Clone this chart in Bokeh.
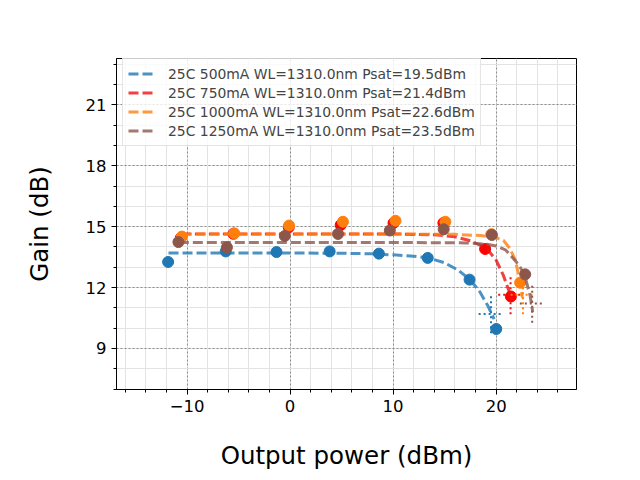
from bokeh.plotting import figure
from bokeh.embed import file_html
from bokeh.resources import INLINE
from bokeh.models import Range1d, FixedTicker, Legend, LegendItem, CustomJSTickFormatter

# ---- data ----
labels = ["25C 500mA WL=1310.0nm Psat=19.5dBm",
          "25C 750mA WL=1310.0nm Psat=21.4dBm",
          "25C 1000mA WL=1310.0nm Psat=22.6dBm",
          "25C 1250mA WL=1310.0nm Psat=23.5dBm"]
psat = [19.5, 21.4, 22.6, 23.5]
g3db = [10.7, 11.64, 11.64, 11.22]

# measured points
p500_x = [-11.84, -6.25, -1.32, 3.84, 8.62, 13.36, 17.42, 20.01]
p500_y = [13.26, 13.78, 13.75, 13.78, 13.67, 13.46, 12.39, 9.96]
p750_x = [-10.6, -5.5, -0.13, 4.91, 10.04, 14.88, 18.93, 21.43]
p750_y = [14.45, 14.65, 14.97, 15.08, 15.18, 15.18, 13.90, 11.56]
p1000_x = [-10.51, -5.42, -0.10, 5.13, 10.23, 15.07, 19.53, 22.33]
p1000_y = [14.51, 14.67, 15.05, 15.24, 15.29, 15.24, 14.63, 12.24]
p1250_x = [-10.84, -6.13, -0.51, 4.65, 9.68, 14.91, 19.59, 22.82]
p1250_y = [14.24, 13.98, 14.54, 14.64, 14.81, 14.87, 14.59, 12.65]

# fitted curves
f500_x = [-11.8, -5, 0, 5, 8, 10, 12, 13.4, 15, 16.3, 17.4, 18.4, 19.2, 19.8]
f500_y = [13.70, 13.70, 13.70, 13.69, 13.66, 13.61, 13.54, 13.46, 13.22, 12.86, 12.42, 11.8, 11.1, 10.45]
f750_x = [-10.6, 0, 10, 14, 16, 17.5, 18.5, 19.2, 20.0, 20.7, 21.2, 21.5]
f750_y = [14.64, 14.64, 14.64, 14.6, 14.5, 14.3, 14.08, 13.85, 13.35, 12.6, 11.9, 11.4]
f1000_x = [-10.5, 0, 10, 16, 18.5, 19.8, 20.7, 21.3, 21.85, 22.3, 22.55]
f1000_y = [14.64, 14.64, 14.64, 14.62, 14.56, 14.48, 14.33, 13.95, 13.38, 12.35, 11.5]
f1250_x = [-10.8, 0, 10, 17, 19.0, 20.0, 20.9, 21.9, 22.4, 22.9, 23.3, 23.55]
f1250_y = [14.22, 14.22, 14.22, 14.2, 14.14, 14.05, 13.86, 13.3, 12.95, 12.35, 11.6, 10.8]

x_ticks = [-10, 0, 10, 20]
x_minor = list(range(-16, 28, 2))
y_ticks = [9, 12, 15, 18, 21]
y_minor = list(range(7, 24))

line_colors = ["#1f77b4", "#ee1111", "#ff7f0e", "#8c564b"]
pt_colors = ["#1f77b4", "#ff0000", "#ff7f0e", "#8c564b"]

pts = [(p500_x, p500_y), (p750_x, p750_y), (p1000_x, p1000_y), (p1250_x, p1250_y)]
fits = [(f500_x, f500_y), (f750_x, f750_y), (f1000_x, f1000_y), (f1250_x, f1250_y)]

p = figure(width=632, height=472, x_range=Range1d(-16.85, 27.8), y_range=Range1d(6.98, 23.28),
           output_backend="svg", toolbar_location=None,
           min_border_left=116, min_border_right=56, min_border_top=58, min_border_bottom=79)

p.outline_line_color = "black"
p.outline_line_width = 1
p.background_fill_color = "white"

p.xaxis.ticker = FixedTicker(ticks=x_ticks, minor_ticks=x_minor)
p.yaxis.ticker = FixedTicker(ticks=y_ticks, minor_ticks=y_minor)
fmt = CustomJSTickFormatter(code="return (tick < 0 ? '\u2212' + Math.abs(tick) : '' + tick);")
p.xaxis.formatter = fmt
p.yaxis.formatter = fmt

for ax in (p.xaxis, p.yaxis):
    ax.axis_line_color = "black"
    ax.major_tick_line_color = "black"
    ax.minor_tick_line_color = "black"
    ax.major_tick_out = 5
    ax.major_tick_in = 0
    ax.minor_tick_out = 3
    ax.minor_tick_in = 0
    ax.major_label_text_font = "DejaVu Sans"
    ax.major_label_text_font_size = "16.5px"
    ax.major_label_text_color = "black"
    ax.axis_label_text_font = "DejaVu Sans"
    ax.axis_label_text_font_size = "24.5px"
    ax.axis_label_text_font_style = "normal"
    ax.axis_label_text_color = "black"

p.xaxis.axis_label = "Output power (dBm)"
p.yaxis.axis_label = "Gain (dB)"
p.xaxis.axis_label_standoff = 26
p.yaxis.axis_label_standoff = 29
p.xaxis.major_label_standoff = 5
p.yaxis.major_label_standoff = 5

for g in (p.xgrid, p.ygrid):
    g.grid_line_color = "#777777"
    g.grid_line_dash = "2 2"
    g.grid_line_width = 0.8
    g.minor_grid_line_color = "#e3e3e3"
    g.minor_grid_line_width = 1

items = []
for i in range(4):
    px, py = pts[i]
    fx, fy = fits[i]
    p.scatter(px, py, size=11, color=pt_colors[i], line_color=pt_colors[i])
    r = p.line(fx, fy, line_color=line_colors[i], line_width=3, line_dash="10 4", line_alpha=0.8)
    items.append(LegendItem(label=labels[i], renderers=[r]))
    # Psat / -3 dB cross marks
    p.line([psat[i] - 1.2, psat[i] + 1.2], [g3db[i], g3db[i]], line_color=line_colors[i],
           line_width=2, line_dash="2 3")
    p.line([psat[i], psat[i]], [g3db[i] - 0.95, g3db[i] + 0.95], line_color=line_colors[i],
           line_width=2, line_dash="2 3")

legend = Legend(items=items, location=(6, 243))
legend.label_text_font = "DejaVu Sans"
legend.label_text_font_size = "13.9px"
legend.label_standoff = 12
legend.glyph_width = 28
legend.glyph_height = 19
legend.label_height = 19
legend.spacing = 0
legend.padding = 5
legend.margin = 0
legend.border_line_color = "#cccccc"
legend.background_fill_alpha = 0.8
p.add_layout(legend)

open("out.html", "w").write(file_html(p, INLINE))
